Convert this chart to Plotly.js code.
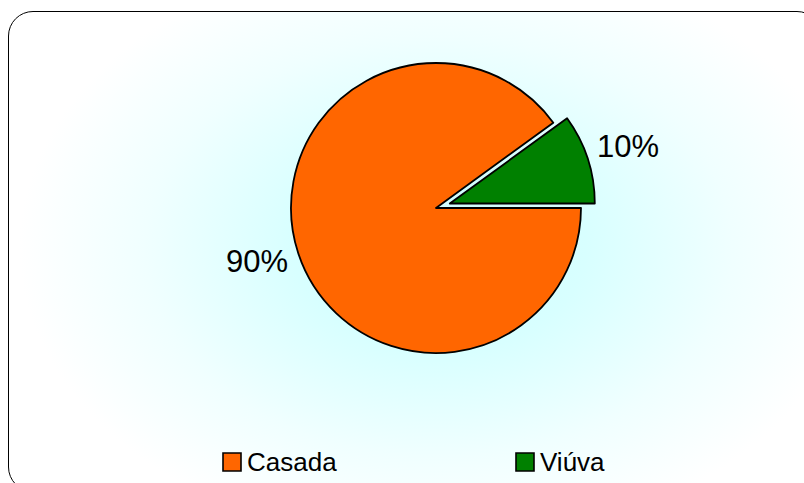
<!DOCTYPE html>
<html>
<head>
<meta charset="utf-8">
<script src="https://cdn.plot.ly/plotly-3.0.1.min.js"></script>
<style>
html,body{margin:0;padding:0;background:#fff;overflow:hidden;}
#wrap{position:relative;width:804px;height:483px;overflow:hidden;background:#fff;}
#frame{position:absolute;left:8px;top:11px;width:812px;height:479px;border:1.6px solid #000;border-radius:25px;
 background:radial-gradient(ellipse 420px 300px at 430px 235px,#ccffff 0%,#d8ffff 35%,#f0ffff 70%,#ffffff 100%);}
#chart{position:absolute;left:0;top:0;width:804px;height:483px;}
</style>
</head>
<body>
<div id="wrap"><div id="frame"></div><div id="chart"></div></div>
<script>
const labels = ["Casada", "Viúva"];
const values = [90, 10];
const colors = ["#FF6600", "#008000"];
const pulls = [0, 0.1];

const W = 804, H = 483;
const px = x => x / W;
const py = y => 1 - y / H;
const FONT = "Liberation Sans, Arial, sans-serif";

const trace = {
  type: "pie",
  labels: labels,
  values: values,
  sort: false,
  direction: "clockwise",
  rotation: 90,
  pull: pulls,
  textinfo: "none",
  marker: {colors: colors, line: {color: "#000", width: 1.8}},
  domain: {x: [px(436 - 159.5), px(436 + 159.5)], y: [py(208 + 159.5), py(208 - 159.5)]},
  showlegend: false,
  hoverinfo: "none"
};

const total = values.reduce((a, b) => a + b, 0);
const labelPos = [[256.5, 261], [628, 146.5]];
const shapes = [], annotations = [];
values.forEach((v, i) => {
  annotations.push({xref: "paper", yref: "paper", x: px(labelPos[i][0]), y: py(labelPos[i][1]),
    xanchor: "center", yanchor: "middle", showarrow: false,
    text: Math.round(v / total * 100) + "%",
    font: {family: FONT, size: 31, color: "#000"}});
});

// custom legend (squares + text) built from labels/colors
const legX = [223, 516];
labels.forEach((lab, i) => {
  shapes.push({type: "rect", xref: "paper", yref: "paper",
    x0: px(legX[i]), x1: px(legX[i] + 18), y0: py(471), y1: py(453),
    fillcolor: colors[i], line: {color: "#000", width: 1.6}});
  annotations.push({xref: "paper", yref: "paper", x: px(legX[i] + 22), y: py(462),
    xanchor: "left", yanchor: "middle", showarrow: false, text: lab,
    font: {family: FONT, size: 26, color: "#000"}});
});

const layout = {
  width: W, height: H,
  margin: {l: 0, r: 0, t: 0, b: 0},
  paper_bgcolor: "rgba(0,0,0,0)",
  plot_bgcolor: "rgba(0,0,0,0)",
  shapes: shapes,
  annotations: annotations
};
Plotly.newPlot("chart", [trace], layout, {staticPlot: true, displayModeBar: false});
</script>
</body>
</html>
